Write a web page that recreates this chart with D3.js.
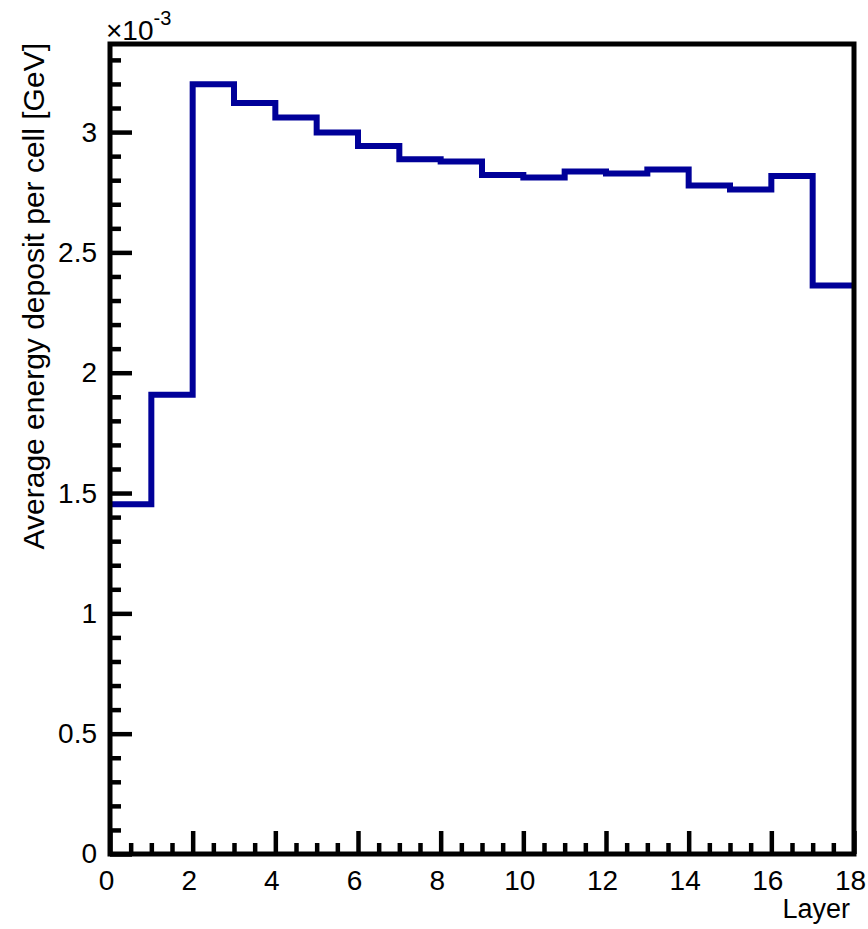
<!DOCTYPE html>
<html>
<head>
<meta charset="utf-8">
<script src="https://cdn.jsdelivr.net/npm/d3@7"></script>
<style>
  body { margin: 0; background: #fff; }
  svg { display: block; font-family: "Liberation Sans", Arial, Helvetica, sans-serif; }
</style>
</head>
<body>
<script>
// Paramètres
const width = 868;
const height = 929;
const margin = { top: 44, right: 14, bottom: 75, left: 110 };
const lineColor = '#000099';

// Données (valeurs en unités de 1e-3 GeV)
const layers = d3.range(0, 18);
const deposit = [1.453, 1.908, 3.199, 3.121, 3.061, 2.998, 2.942, 2.887, 2.878,
                 2.822, 2.811, 2.836, 2.828, 2.844, 2.778, 2.761, 2.817, 2.362];
const xMajor = [0, 2, 4, 6, 8, 10, 12, 14, 16, 18];
const yMajor = [0, 0.5, 1, 1.5, 2, 2.5, 3];

const svg = d3.select('body')
  .append('svg')
  .attr('width', width)
  .attr('height', height);

const x = d3.scaleLinear()
  .domain([0, 18])
  .range([margin.left, width - margin.right]);

const y = d3.scaleLinear()
  .domain([0, 3.366])
  .range([height - margin.bottom, margin.top]);

// Axe vertical : graduations principales et secondaires
const yMinor = d3.range(0, 3.3501, 0.1).filter(v => !yMajor.some(m => Math.abs(m - v) < 1e-6));

svg.append('g')
  .attr('transform', `translate(${margin.left},0)`)
  .call(d3.axisLeft(y).tickValues(yMinor).tickSize(-11).tickFormat(''))
  .call(g => g.select('.domain').remove())
  .call(g => g.selectAll('line').attr('stroke', '#000').attr('stroke-width', 4.5));

svg.append('g')
  .attr('transform', `translate(${margin.left},0)`)
  .call(d3.axisLeft(y).tickValues(yMajor).tickSize(-22).tickPadding(13).tickFormat(d => d3.format('~g')(d)))
  .call(g => g.select('.domain').remove())
  .call(g => g.selectAll('line').attr('stroke', '#000').attr('stroke-width', 4.5))
  .call(g => g.selectAll('text').attr('fill', '#000').style('font-size', '28px'));

// Axe horizontal
const xMinor = d3.range(0, 18.01, 0.5).filter(v => v % 2 !== 0);

svg.append('g')
  .attr('transform', `translate(0,${height - margin.bottom})`)
  .call(d3.axisBottom(x).tickValues(xMinor).tickSize(-11).tickFormat(''))
  .call(g => g.select('.domain').remove())
  .call(g => g.selectAll('line').attr('stroke', '#000').attr('stroke-width', 4.5));

svg.append('g')
  .attr('transform', `translate(0,${height - margin.bottom})`)
  .call(d3.axisBottom(x).tickValues(xMajor).tickSize(-23).tickPadding(16))
  .call(g => g.select('.domain').remove())
  .call(g => g.selectAll('line').attr('stroke', '#000').attr('stroke-width', 4.5))
  .call(g => g.selectAll('text').attr('fill', '#000').attr('dx', -4).style('font-size', '28px'));

// Histogramme
const pts = layers.map((l, i) => [l, deposit[i]]);
pts.push([18, deposit[deposit.length - 1]]);

svg.append('path')
  .datum(pts)
  .attr('fill', 'none')
  .attr('stroke', lineColor)
  .attr('stroke-width', 6)
  .attr('d', d3.line().x(d => x(d[0])).y(d => y(d[1])).curve(d3.curveStepAfter));

// Cadre
svg.append('rect')
  .attr('x', x(0))
  .attr('y', y.range()[1])
  .attr('width', x(18) - x(0))
  .attr('height', y.range()[0] - y.range()[1])
  .attr('fill', 'none')
  .attr('stroke', '#000')
  .attr('stroke-width', 5);

// Titres
svg.append('text')
  .attr('x', x(18) - 4)
  .attr('y', 918)
  .attr('text-anchor', 'end')
  .style('font-size', '27px')
  .text('Layer');

svg.append('text')
  .attr('transform', `translate(44, ${margin.top - 1}) rotate(-90)`)
  .attr('text-anchor', 'end')
  .style('font-size', '30px')
  .text('Average energy deposit per cell [GeV]');

const expo = svg.append('text')
  .attr('x', 106)
  .attr('y', 40)
  .style('font-size', '28px');
expo.append('tspan').text('×10');
expo.append('tspan').attr('dy', -15).style('font-size', '20px').text('-3');
</script>
</body>
</html>
